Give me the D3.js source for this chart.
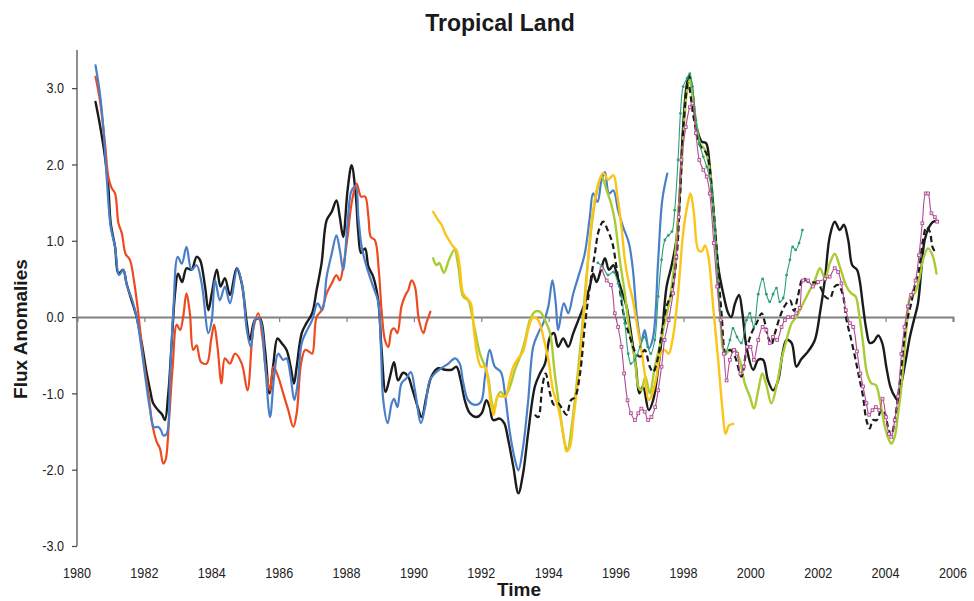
<!DOCTYPE html>
<html>
<head>
<meta charset="utf-8">
<script src="https://cdn.jsdelivr.net/npm/d3@7"></script>
<style>
  body { margin: 0; background: #fff; }
  svg { display: block; }
</style>
</head>
<body>
<svg id="chart" width="974" height="601"></svg>
<script>
// Axis ticks
const xTicks = [1980, 1982, 1984, 1986, 1988, 1990, 1992, 1994, 1996, 1998, 2000, 2002, 2004, 2006];
const yTicks = [-3, -2, -1, 0, 1, 2, 3];

// Flux anomaly series as [year, anomaly]
const redSeries = [[1980.55,3.15],[1980.68,2.84],[1980.83,2.28],[1980.93,1.84],[1981.03,1.69],[1981.13,1.62],[1981.23,1.23],[1981.33,1.10],[1981.44,0.83],[1981.57,0.75],[1981.69,0.48],[1981.82,0.05],[1981.97,-0.56],[1982.12,-1.0],[1982.23,-1.39],[1982.36,-1.63],[1982.46,-1.72],[1982.56,-1.92],[1982.63,-1.87],[1982.73,-1.35],[1982.84,-0.65],[1982.96,-0.10],[1983.06,-0.17],[1983.15,0.0],[1983.25,0.31],[1983.35,0.05],[1983.45,-0.43],[1983.55,-0.37],[1983.68,-0.59],[1983.85,-0.61],[1983.98,-0.30],[1984.07,-0.10],[1984.17,-0.39],[1984.29,-0.87],[1984.39,-0.54],[1984.54,-0.61],[1984.69,-0.48],[1984.89,-0.61],[1985.06,-0.96],[1985.23,-0.17],[1985.38,0.05],[1985.50,-0.26],[1985.63,-0.78],[1985.73,-0.96],[1985.83,-0.65],[1985.97,-0.78],[1986.12,-1.0],[1986.27,-1.22],[1986.42,-1.44],[1986.52,-1.26],[1986.65,-0.61],[1986.77,-0.43],[1986.88,-0.45],[1986.98,-0.48],[1987.11,0.0],[1987.26,0.09],[1987.41,0.31],[1987.56,0.44],[1987.70,0.55],[1987.80,0.48],[1987.90,0.66],[1988.03,1.05],[1988.15,1.49],[1988.30,1.75],[1988.43,1.58],[1988.55,1.58],[1988.65,1.31],[1988.72,1.05],[1988.84,1.01],[1988.96,0.60],[1989.04,0.09],[1989.14,-0.30],[1989.24,-0.39],[1989.34,-0.17],[1989.42,-0.15],[1989.51,-0.21],[1989.63,0.14],[1989.75,0.29],[1989.83,0.35],[1989.93,0.48],[1990.03,0.40],[1990.15,-0.04],[1990.28,-0.21],[1990.37,-0.08],[1990.49,0.07]];

const blueSeries = [[1980.55,3.30],[1980.68,2.93],[1980.78,2.49],[1980.88,1.84],[1981.0,1.18],[1981.13,0.92],[1981.25,0.55],[1981.37,0.62],[1981.49,0.40],[1981.64,0.22],[1981.77,0.0],[1981.92,-0.43],[1982.04,-0.83],[1982.17,-1.22],[1982.28,-1.44],[1982.41,-1.44],[1982.49,-1.48],[1982.56,-1.55],[1982.66,-1.53],[1982.76,-0.78],[1982.86,0.09],[1982.99,0.79],[1983.11,0.70],[1983.25,0.92],[1983.40,0.62],[1983.55,0.68],[1983.70,0.44],[1983.90,-0.21],[1984.0,-0.04],[1984.10,0.48],[1984.24,0.22],[1984.39,0.40],[1984.54,0.18],[1984.76,0.64],[1984.91,0.40],[1985.04,-0.17],[1985.16,-0.39],[1985.30,-0.02],[1985.43,-0.04],[1985.58,-0.61],[1985.73,-1.31],[1985.85,-0.78],[1985.97,-0.48],[1986.12,-0.56],[1986.22,-0.54],[1986.34,-0.78],[1986.45,-1.09],[1986.55,-0.87],[1986.67,-0.34],[1986.81,-0.19],[1986.98,-0.04],[1987.14,0.18],[1987.28,0.09],[1987.41,0.53],[1987.56,0.83],[1987.70,1.07],[1987.80,0.88],[1987.90,0.62],[1988.03,1.23],[1988.15,1.66],[1988.27,1.71],[1988.35,1.31],[1988.45,0.92],[1988.57,0.70],[1988.69,0.53],[1988.79,0.40],[1988.94,0.20],[1989.02,-0.40],[1989.09,-1.09],[1989.22,-1.39],[1989.34,-1.13],[1989.41,-1.07],[1989.51,-1.18],[1989.63,-0.87],[1989.78,-0.80],[1989.91,-0.72],[1990.03,-0.96],[1990.21,-1.39],[1990.33,-1.18],[1990.47,-0.83],[1990.62,-0.74],[1990.82,-0.67],[1991.02,-0.61],[1991.22,-0.54],[1991.36,-0.61],[1991.46,-0.85],[1991.61,-1.09],[1991.81,-1.15],[1991.99,-1.11],[1992.11,-0.78],[1992.25,-0.43],[1992.40,-0.65],[1992.58,-0.72],[1992.70,-1.0],[1992.85,-1.52],[1993.0,-1.87],[1993.10,-2.01],[1993.24,-1.70],[1993.39,-1.10],[1993.54,-0.39],[1993.69,-0.21],[1993.84,-0.08],[1993.99,0.14],[1994.11,0.48],[1994.21,0.18],[1994.28,-0.17],[1994.45,0.18],[1994.58,0.05],[1994.73,0.31],[1994.88,0.53],[1995.07,0.83],[1995.22,1.31],[1995.32,1.62],[1995.45,1.51],[1995.57,1.80],[1995.67,1.90],[1995.79,1.62],[1995.92,1.66],[1996.06,1.40],[1996.21,1.18],[1996.38,0.97],[1996.50,0.62],[1996.63,-0.04],[1996.75,-0.32],[1996.85,-0.17],[1996.97,-0.41],[1997.10,-0.26],[1997.25,0.75],[1997.37,1.53],[1997.52,1.88]];

const blackSeries = [[1980.55,2.82],[1980.68,2.52],[1980.83,2.10],[1980.93,1.71],[1981.0,1.23],[1981.13,0.92],[1981.23,0.57],[1981.37,0.62],[1981.47,0.44],[1981.62,0.22],[1981.77,0.0],[1981.92,-0.34],[1982.07,-0.74],[1982.17,-0.96],[1982.26,-1.13],[1982.41,-1.22],[1982.53,-1.28],[1982.61,-1.35],[1982.71,-1.0],[1982.81,-0.34],[1982.91,0.31],[1983.0,0.57],[1983.12,0.46],[1983.25,0.64],[1983.40,0.62],[1983.55,0.79],[1983.65,0.75],[1983.80,0.40],[1983.90,0.09],[1984.0,0.31],[1984.15,0.62],[1984.26,0.40],[1984.39,0.51],[1984.54,0.29],[1984.74,0.64],[1984.89,0.44],[1985.04,-0.08],[1985.13,-0.30],[1985.28,-0.04],[1985.43,-0.02],[1985.58,-0.43],[1985.71,-1.0],[1985.83,-0.61],[1985.95,-0.28],[1986.07,-0.34],[1986.22,-0.43],[1986.34,-0.65],[1986.44,-0.87],[1986.52,-0.65],[1986.67,-0.21],[1986.81,-0.08],[1986.98,0.05],[1987.11,0.35],[1987.26,0.71],[1987.41,1.27],[1987.56,1.38],[1987.70,1.53],[1987.80,1.31],[1987.90,1.05],[1988.03,1.66],[1988.15,1.99],[1988.27,1.62],[1988.35,1.10],[1988.43,0.84],[1988.55,0.90],[1988.65,0.66],[1988.79,0.53],[1988.94,0.22],[1989.04,-0.43],[1989.16,-0.98],[1989.29,-0.78],[1989.41,-0.59],[1989.53,-0.83],[1989.68,-0.73],[1989.83,-0.78],[1989.93,-0.91],[1990.08,-1.13],[1990.23,-1.31],[1990.37,-1.04],[1990.52,-0.78],[1990.72,-0.67],[1990.92,-0.69],[1991.12,-0.69],[1991.26,-0.65],[1991.39,-0.83],[1991.51,-1.09],[1991.66,-1.26],[1991.86,-1.31],[1992.01,-1.26],[1992.15,-1.09],[1992.25,-1.18],[1992.35,-1.35],[1992.55,-1.33],[1992.68,-1.39],[1992.80,-1.61],[1992.95,-1.96],[1993.10,-2.31],[1993.24,-2.05],[1993.39,-1.52],[1993.59,-0.91],[1993.74,-0.74],[1993.89,-0.61],[1994.04,-0.26],[1994.16,-0.21],[1994.28,-0.39],[1994.43,-0.28],[1994.58,-0.39],[1994.73,-0.21],[1994.88,-0.04],[1995.07,0.18],[1995.22,0.40],[1995.32,0.57],[1995.42,0.46],[1995.55,0.62],[1995.67,0.77],[1995.79,0.62],[1995.92,0.68],[1996.04,0.53],[1996.16,0.35],[1996.31,0.14],[1996.46,-0.26],[1996.59,-0.65],[1996.69,-1.0],[1996.80,-0.91],[1996.97,-1.22],[1997.10,-1.09],[1997.23,-0.74],[1997.35,-0.30],[1997.50,0.40],[1997.64,0.66],[1997.79,1.01],[1997.89,1.62],[1997.99,2.49],[1998.09,3.02],[1998.17,3.17],[1998.27,2.93],[1998.39,2.49],[1998.54,2.30],[1998.67,2.28],[1998.78,1.97],[1998.93,1.18],[1999.03,0.66],[1999.18,0.31],[1999.33,0.05],[1999.42,0.0],[1999.53,0.18],[1999.65,0.29],[1999.75,0.05],[1999.87,-0.39],[2000.07,-0.69],[2000.22,-0.56],[2000.36,-0.56],[2000.51,-0.83],[2000.66,-0.96],[2000.81,-0.83],[2000.94,-0.48],[2001.06,-0.30],[2001.21,-0.34],[2001.35,-0.65],[2001.50,-0.55],[2001.70,-0.45],[2001.90,-0.30],[2002.05,0.05],[2002.20,0.50],[2002.34,1.05],[2002.49,1.25],[2002.64,1.14],[2002.76,1.21],[2002.89,1.01],[2003.01,0.68],[2003.15,0.62],[2003.23,0.48],[2003.33,0.14],[2003.43,-0.17],[2003.53,-0.34],[2003.65,-0.32],[2003.78,-0.24],[2003.90,-0.34],[2004.02,-0.65],[2004.14,-0.91],[2004.27,-1.04],[2004.37,-1.09],[2004.47,-0.87],[2004.60,-0.56],[2004.72,-0.26],[2004.84,-0.04],[2004.96,0.18],[2005.06,0.62],[2005.16,1.01],[2005.29,1.18],[2005.41,1.25],[2005.53,1.26]];

const greenSeries = [[1990.57,0.77],[1990.67,0.68],[1990.75,0.71],[1990.89,0.58],[1991.04,0.75],[1991.20,0.88],[1991.32,0.66],[1991.46,0.27],[1991.61,0.22],[1991.71,0.05],[1991.81,-0.17],[1991.96,-0.48],[1992.11,-0.65],[1992.20,-0.78],[1992.30,-1.09],[1992.38,-1.22],[1992.48,-1.04],[1992.58,-0.98],[1992.70,-1.04],[1992.85,-0.91],[1993.0,-0.69],[1993.15,-0.52],[1993.29,-0.32],[1993.44,-0.04],[1993.59,0.07],[1993.74,0.07],[1993.89,-0.04],[1994.04,-0.21],[1994.18,-0.74],[1994.33,-1.22],[1994.48,-1.66],[1994.56,-1.74],[1994.68,-1.44],[1994.83,-0.87],[1994.97,-0.26],[1995.12,0.53],[1995.27,1.18],[1995.42,1.62],[1995.57,1.84],[1995.72,1.66],[1995.85,1.49],[1995.96,1.27],[1996.11,0.75],[1996.26,0.31],[1996.41,-0.21],[1996.56,-0.56],[1996.66,-0.91],[1996.75,-0.96],[1996.87,-0.78],[1997.0,-1.0],[1997.15,-0.65],[1997.29,-0.39],[1997.44,-0.08],[1997.59,0.22],[1997.74,0.75],[1997.89,1.60],[1998.0,2.40],[1998.10,2.95],[1998.19,3.11],[1998.30,2.80],[1998.49,2.28],[1998.64,2.19],[1998.78,1.93],[1998.93,1.18],[1999.08,0.09],[1999.23,-0.48],[1999.38,-0.43],[1999.53,-0.43],[1999.67,-0.56],[1999.82,-0.87],[1999.97,-1.04],[2000.09,-1.20],[2000.22,-0.96],[2000.34,-0.74],[2000.46,-0.89],[2000.61,-1.13],[2000.76,-0.91],[2000.91,-0.56],[2001.06,-0.30],[2001.21,-0.08],[2001.35,0.0],[2001.52,0.15],[2001.70,0.31],[2001.90,0.48],[2002.05,0.64],[2002.20,0.51],[2002.34,0.70],[2002.49,0.83],[2002.64,0.66],[2002.84,0.40],[2002.98,0.31],[2003.11,0.27],[2003.21,0.05],[2003.33,-0.34],[2003.45,-0.74],[2003.58,-0.87],[2003.71,-0.89],[2003.83,-1.09],[2003.98,-1.44],[2004.10,-1.61],[2004.17,-1.66],[2004.27,-1.57],[2004.37,-1.26],[2004.47,-0.91],[2004.56,-0.43],[2004.66,0.05],[2004.73,0.27],[2004.86,0.31],[2004.99,0.48],[2005.11,0.75],[2005.26,0.90],[2005.39,0.81],[2005.51,0.57]];

const yellowSeries = [[1990.57,1.38],[1990.69,1.29],[1990.82,1.21],[1990.92,1.10],[1991.04,1.01],[1991.17,0.92],[1991.26,0.88],[1991.36,0.66],[1991.46,0.31],[1991.59,0.24],[1991.69,0.18],[1991.79,-0.21],[1991.89,-0.52],[1991.99,-0.65],[1992.11,-0.65],[1992.20,-0.83],[1992.30,-1.18],[1992.37,-1.28],[1992.48,-1.04],[1992.60,-1.04],[1992.72,-1.04],[1992.82,-0.87],[1992.95,-0.65],[1993.10,-0.54],[1993.24,-0.45],[1993.41,-0.13],[1993.54,0.0],[1993.69,-0.04],[1993.84,-0.26],[1993.99,-0.56],[1994.13,-0.96],[1994.28,-1.18],[1994.43,-1.52],[1994.53,-1.76],[1994.63,-1.70],[1994.73,-1.35],[1994.88,-0.78],[1995.02,-0.13],[1995.17,0.75],[1995.32,1.40],[1995.47,1.75],[1995.62,1.89],[1995.76,1.80],[1995.92,1.86],[1996.04,1.58],[1996.16,1.18],[1996.26,0.75],[1996.38,0.44],[1996.50,0.22],[1996.63,-0.13],[1996.75,-0.43],[1996.85,-0.74],[1996.97,-1.09],[1997.08,-1.0],[1997.20,-0.78],[1997.32,-0.48],[1997.44,-0.43],[1997.56,-0.48],[1997.69,-0.26],[1997.84,0.31],[1997.99,1.10],[1998.11,1.45],[1998.21,1.62],[1998.31,1.36],[1998.44,0.88],[1998.54,0.86],[1998.64,0.94],[1998.74,0.79],[1998.89,0.09],[1999.03,-0.56],[1999.16,-1.22],[1999.25,-1.53],[1999.35,-1.42],[1999.48,-1.40]];

const dashedSeries = [[1993.59,-1.28],[1993.69,-1.31],[1993.81,-0.91],[1993.91,-0.74],[1994.04,-1.0],[1994.16,-1.15],[1994.28,-1.13],[1994.40,-1.20],[1994.53,-1.28],[1994.66,-1.09],[1994.78,-1.05],[1994.93,-0.74],[1995.07,-0.13],[1995.22,0.40],[1995.37,0.83],[1995.49,1.14],[1995.62,1.25],[1995.75,1.14],[1995.89,0.97],[1996.01,0.66],[1996.14,0.27],[1996.26,-0.04],[1996.41,-0.26],[1996.56,-0.45],[1996.71,-0.52],[1996.85,-0.43],[1997.0,-0.65],[1997.10,-0.72],[1997.23,-0.56],[1997.35,-0.21],[1997.50,0.14],[1997.64,0.31],[1997.79,0.75],[1997.90,1.60],[1998.0,2.50],[1998.14,3.06],[1998.30,2.62],[1998.49,2.25],[1998.69,2.14],[1998.83,1.71],[1998.98,0.92],[1999.13,0.05],[1999.26,-0.48],[1999.38,-0.43],[1999.53,-0.52],[1999.72,-0.78],[1999.87,-0.43],[2000.02,-0.21],[2000.17,-0.08],[2000.32,0.05],[2000.42,-0.08],[2000.51,-0.26],[2000.61,-0.36],[2000.71,-0.22],[2000.86,0.0],[2001.01,0.15],[2001.16,0.22],[2001.28,0.08],[2001.40,0.28],[2001.55,0.51],[2001.70,0.46],[2001.99,0.44],[2002.20,0.27],[2002.34,0.24],[2002.49,0.40],[2002.59,0.42],[2002.72,0.31],[2002.84,-0.04],[2002.96,-0.26],[2003.09,-0.52],[2003.21,-0.78],[2003.33,-1.04],[2003.43,-1.35],[2003.53,-1.46],[2003.62,-1.35],[2003.74,-1.35],[2003.87,-1.22],[2003.98,-1.26],[2004.07,-1.44],[2004.17,-1.55],[2004.27,-1.35],[2004.37,-1.04],[2004.47,-0.65],[2004.56,-0.26],[2004.66,0.0],[2004.76,0.18],[2004.86,0.40],[2004.99,0.62],[2005.11,1.01],[2005.21,1.18],[2005.31,1.12],[2005.39,0.92],[2005.46,0.86]];

const tealSeries = [[1995.46,0.71],[1995.60,0.66],[1995.76,0.55],[1995.92,0.59],[1996.06,0.44],[1996.16,0.27],[1996.26,-0.08],[1996.36,-0.48],[1996.44,-0.61],[1996.56,-0.56],[1996.71,-0.39],[1996.84,-0.26],[1996.94,-0.39],[1997.03,-0.48],[1997.15,-0.30],[1997.25,0.27],[1997.35,0.75],[1997.45,1.01],[1997.55,1.07],[1997.66,1.12],[1997.74,1.40],[1997.84,2.06],[1997.91,2.67],[1997.99,3.02],[1998.11,3.13],[1998.19,3.19],[1998.27,3.02],[1998.37,2.58],[1998.47,2.28],[1998.59,2.10],[1998.69,1.97],[1998.83,1.71],[1998.93,1.18],[1999.08,0.09],[1999.23,-0.48],[1999.38,-0.30],[1999.47,-0.15],[1999.59,-0.26],[1999.72,-0.34],[1999.87,-0.04],[1999.97,0.05],[2000.09,-0.13],[2000.22,0.30],[2000.35,0.50],[2000.46,0.30],[2000.56,0.20],[2000.66,0.30],[2000.76,0.38],[2000.86,0.20],[2000.96,0.25],[2001.06,0.55],[2001.16,0.75],[2001.24,0.92],[2001.33,0.88],[2001.43,0.97],[2001.53,1.14]];

const magentaSeries = [[1995.57,0.64],[1995.72,0.48],[1995.85,0.42],[1995.96,0.05],[1996.06,-0.13],[1996.16,-0.39],[1996.24,-0.74],[1996.34,-1.09],[1996.44,-1.26],[1996.56,-1.35],[1996.66,-1.26],[1996.75,-1.20],[1996.85,-1.24],[1996.95,-1.35],[1997.05,-1.31],[1997.16,-1.18],[1997.25,-0.96],[1997.35,-0.65],[1997.44,-0.30],[1997.56,-0.04],[1997.69,0.31],[1997.79,0.79],[1997.86,1.31],[1997.94,2.06],[1998.07,2.49],[1998.19,2.75],[1998.27,2.80],[1998.37,2.41],[1998.47,2.06],[1998.59,1.93],[1998.69,1.84],[1998.78,1.62],[1998.90,0.97],[1999.00,0.40],[1999.10,-0.04],[1999.20,-0.48],[1999.28,-0.83],[1999.38,-0.56],[1999.50,-0.43],[1999.59,-0.48],[1999.69,-0.74],[1999.79,-0.65],[1999.89,-0.39],[1999.99,-0.39],[2000.09,-0.56],[2000.22,-0.30],[2000.35,-0.13],[2000.46,-0.17],[2000.56,-0.34],[2000.66,-0.26],[2000.78,-0.30],[2000.91,-0.13],[2001.01,-0.04],[2001.11,0.0],[2001.24,0.0],[2001.35,0.05],[2001.45,0.12],[2001.55,0.48],[2001.70,0.48],[2001.84,0.40],[2001.99,0.46],[2002.20,0.50],[2002.34,0.53],[2002.49,0.64],[2002.59,0.59],[2002.69,0.44],[2002.82,0.09],[2002.94,-0.08],[2003.04,-0.13],[2003.15,-0.45],[2003.25,-0.74],[2003.33,-0.91],[2003.43,-1.13],[2003.51,-1.28],[2003.61,-1.22],[2003.71,-1.18],[2003.81,-1.22],[2003.91,-1.07],[2004.01,-1.31],[2004.10,-1.53],[2004.17,-1.57],[2004.27,-1.35],[2004.37,-1.04],[2004.47,-0.48],[2004.56,-0.13],[2004.66,0.14],[2004.76,0.29],[2004.89,0.48],[2004.99,0.81],[2005.09,1.23],[2005.19,1.62],[2005.26,1.62],[2005.36,1.36],[2005.46,1.31],[2005.53,1.25]];

// Drawing styles per series, in paint order
const seriesStyles = [
  { data: blackSeries,   color: "#1b1b1b", width: 2.4 },
  { data: redSeries,     color: "#ee4a1f", width: 2.2 },
  { data: blueSeries,    color: "#4a7fc8", width: 2.2 },
  { data: greenSeries,   color: "#a9cc34", width: 2.4 },
  { data: yellowSeries,  color: "#fcc419", width: 2.4 },
  { data: dashedSeries,  color: "#1b1b1b", width: 2.2, dash: "6,3.5" },
  { data: tealSeries,    color: "#2a9f78", width: 1.1, marker: "dot" },
  { data: magentaSeries, color: "#b04a93", width: 1.1, marker: "square" }
];

const svg = d3.select("#chart");
const x = d3.scaleLinear().domain([1980, 2006]).range([77, 953]);
const y = d3.scaleLinear().domain([-3, 3.5]).range([546, 50]);

const fontFamily = "'Liberation Sans', Arial, sans-serif";
// tick labels use a horizontally compressed face
const squeeze = 0.84;

// Title
svg.append("text")
  .attr("x", 500).attr("y", 31)
  .attr("text-anchor", "middle")
  .style("font-family", fontFamily)
  .style("font-weight", "bold")
  .style("font-size", "23px")
  .style("fill", "#1a1a1a")
  .text("Tropical Land");

// Left axis
const yAxis = d3.axisLeft(y).tickValues(yTicks).tickSize(5).tickPadding(0)
  .tickFormat(d => d.toFixed(1));
const yG = svg.append("g").attr("transform", `translate(${x(1980)},0)`).call(yAxis);
yG.select(".domain").attr("d", `M0,${y(3.5)}V${y(-3)}`).attr("stroke", "#444").attr("stroke-width", 1.2);
yG.selectAll(".tick line").attr("stroke", "#444").attr("stroke-width", 1.2);
yG.selectAll(".tick text")
  .attr("x", null)
  .attr("transform", `translate(-13,0) scale(${squeeze},1)`)
  .style("font-family", fontFamily).style("font-size", "15px").style("fill", "#222");

// Zero line carrying the year ticks
const xAxis = d3.axisBottom(x).tickValues(xTicks).tickSize(5).tickFormat("");
const xG = svg.append("g").attr("transform", `translate(0,${y(0)})`).call(xAxis);
xG.select(".domain").attr("stroke", "#808080").attr("stroke-width", 2);
xG.selectAll(".tick line").attr("stroke", "#808080").attr("stroke-width", 1.2);

// Year labels along the bottom
svg.append("g").selectAll("text").data(xTicks).join("text")
  .attr("transform", d => `translate(${x(d)},578) scale(${squeeze},1)`)
  .attr("text-anchor", "middle")
  .style("font-family", fontFamily).style("font-size", "15px").style("fill", "#222")
  .text(d => d);

// Axis titles
svg.append("text")
  .attr("transform", `translate(27,${y(0) + 12}) rotate(-90)`)
  .attr("text-anchor", "middle")
  .style("font-family", fontFamily).style("font-weight", "bold")
  .style("font-size", "19px").style("fill", "#1a1a1a")
  .text("Flux Anomalies");

svg.append("text")
  .attr("x", 519).attr("y", 596)
  .attr("text-anchor", "middle")
  .style("font-family", fontFamily).style("font-weight", "bold")
  .style("font-size", "19px").style("fill", "#1a1a1a")
  .text("Time");

// Series lines
const line = d3.line()
  .x(d => x(d[0]))
  .y(d => y(d[1]))
  .curve(d3.curveCatmullRom.alpha(0.5));

const plot = svg.append("g");
seriesStyles.forEach(s => {
  plot.append("path")
    .datum(s.data)
    .attr("fill", "none")
    .attr("stroke", s.color)
    .attr("stroke-width", s.width)
    .attr("stroke-linejoin", "round")
    .attr("stroke-linecap", s.dash ? "butt" : "round")
    .attr("stroke-dasharray", s.dash || null)
    .attr("d", line);

  if (s.marker === "dot") {
    plot.append("g").selectAll("circle").data(s.data).join("circle")
      .attr("cx", d => x(d[0])).attr("cy", d => y(d[1]))
      .attr("r", 1.4).attr("fill", s.color);
  } else if (s.marker === "square") {
    plot.append("g").selectAll("rect").data(s.data).join("rect")
      .attr("x", d => x(d[0]) - 1.4).attr("y", d => y(d[1]) - 1.4)
      .attr("width", 2.8).attr("height", 2.8)
      .attr("fill", "#f6e8f1").attr("stroke", s.color).attr("stroke-width", 0.9);
  }
});
</script>
</body>
</html>
